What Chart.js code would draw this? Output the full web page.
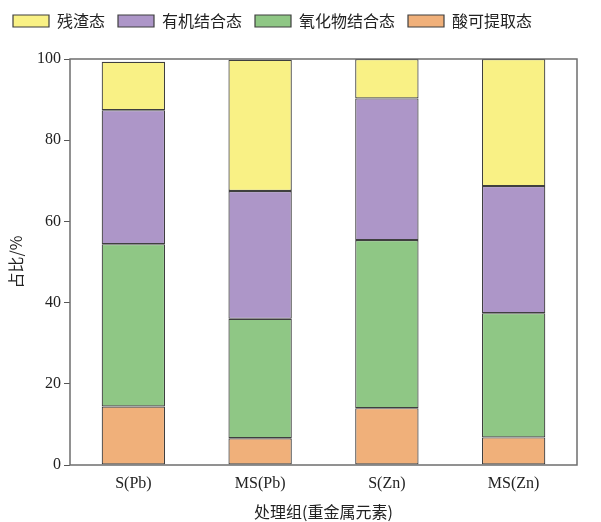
<!DOCTYPE html>
<html>
<head>
<meta charset="utf-8">
<script src="https://cdn.jsdelivr.net/npm/chart.js@4"></script>
<style>
  html, body { margin: 0; padding: 0; background: #fff; }
  #wrap { width: 601px; height: 522px; }
</style>
</head>
<body>
<div id="wrap"><canvas id="chart" width="601" height="522"></canvas></div>
<script>
// categories and series (percent), bottom to top
const groups = ['S(Pb)', 'MS(Pb)', 'S(Zn)', 'MS(Zn)'];
const acidExtractable = [14.4, 6.6, 14.0, 6.8];
const oxideBound = [40.0, 29.4, 41.4, 30.6];
const organicBound = [33.0, 31.5, 34.9, 31.3];
const residual = [11.9, 32.3, 9.7, 31.3];
const yTicks = [0, 20, 40, 60, 80, 100];

const serif = '"Liberation Serif", "Noto Sans CJK SC", serif';
const cjk = '"Noto Sans CJK SC", serif';
const edge = '#3f3f3f';

// box around the plot area
const frame = {
  id: 'frame',
  afterDraw(chart) {
    const { ctx, chartArea: a } = chart;
    ctx.save();
    ctx.strokeStyle = '#6e6e6e';
    ctx.lineWidth = 1.5;
    ctx.strokeRect(a.left, a.top, a.right - a.left, a.bottom - a.top);
    ctx.restore();
  }
};

// extra room under the legend
const legendGap = {
  id: 'legendGap',
  beforeInit(chart) {
    const fit = chart.legend.fit;
    chart.legend.fit = function () {
      fit.bind(chart.legend)();
      this.height += 20;
    };
  }
};

function ds(label, data, color) {
  return {
    label,
    data,
    backgroundColor: color,
    borderColor: edge,
    borderWidth: 1.2,
    borderSkipped: false,
    categoryPercentage: 1,
    barPercentage: 0.5
  };
}

new Chart(document.getElementById('chart').getContext('2d'), {
  type: 'bar',
  data: {
    labels: groups,
    datasets: [
      ds('酸可提取态', acidExtractable, '#f0b07a'),
      ds('氧化物结合态', oxideBound, '#8fc785'),
      ds('有机结合态', organicBound, '#ad96c8'),
      ds('残渣态', residual, '#f9f185')
    ]
  },
  options: {
    responsive: false,
    animation: false,
    layout: { padding: { top: 0, right: 24, bottom: 0, left: 0 } },
    plugins: {
      legend: {
        reverse: true,
        align: 'start',
        labels: {
          boxWidth: 36,
          boxHeight: 12,
          padding: 13,
          color: '#222',
          font: { family: cjk, size: 16 }
        }
      },
      tooltip: { enabled: false }
    },
    scales: {
      x: {
        stacked: true,
        grid: { display: false, drawTicks: false },
        border: { display: false },
        ticks: { color: '#222', padding: 9, font: { family: serif, size: 16 } },
        title: {
          display: true,
          text: '处理组(重金属元素)',
          color: '#222',
          padding: { top: 5, bottom: 0 },
          font: { family: cjk, size: 16 }
        },
        afterFit(s) { s.height = 57; }
      },
      y: {
        stacked: true,
        min: 0,
        max: 100,
        afterBuildTicks(s) { s.ticks = yTicks.map(v => ({ value: v })); },
        grid: { drawOnChartArea: false, drawTicks: true, tickLength: 6, color: '#555' },
        border: { display: false },
        ticks: { color: '#222', padding: 3, font: { family: serif, size: 16 } },
        title: {
          display: true,
          text: '占比/%',
          color: '#222',
          padding: { top: 6, bottom: 0 },
          font: { family: cjk, size: 16 }
        },
        afterFit(s) { s.width = 70; }
      }
    }
  },
  plugins: [frame, legendGap]
});
</script>
</body>
</html>
